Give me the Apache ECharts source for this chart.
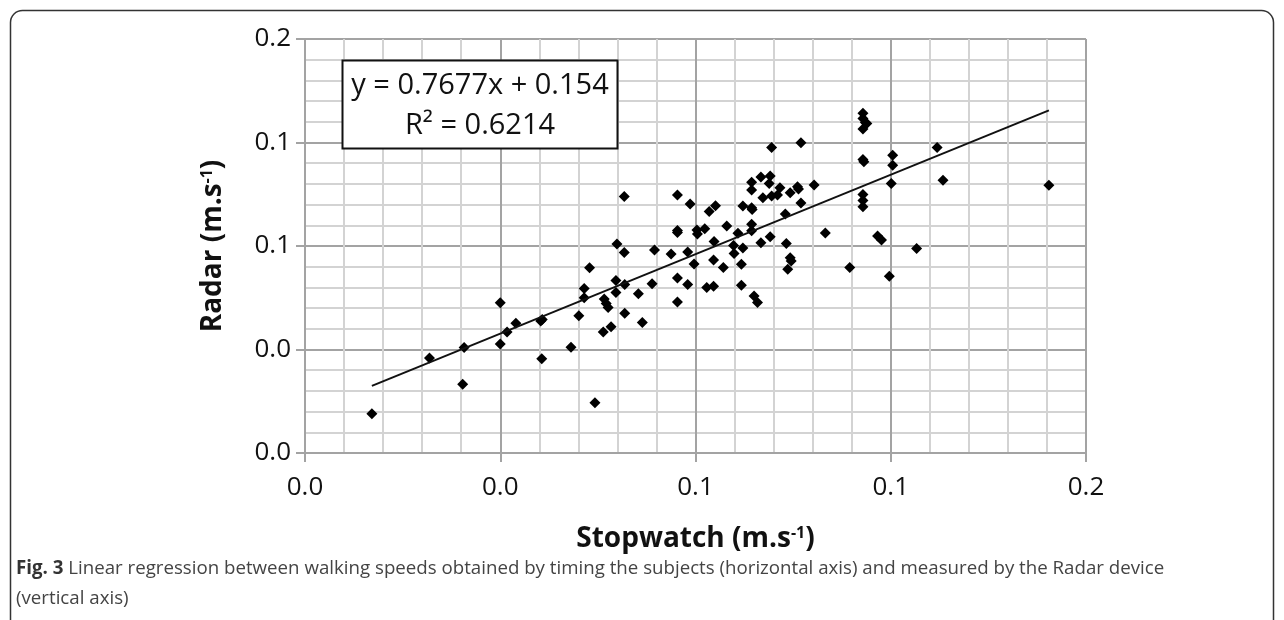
<!DOCTYPE html>
<html>
<head>
<meta charset="utf-8">
<script src="https://cdn.jsdelivr.net/npm/echarts@6/dist/echarts.min.js"></script>
<style>
html,body{margin:0;padding:0;background:#fff;}
#c{width:1284px;height:620px;}
</style>
</head>
<body>
<div id="c"></div>
<script>
// Stopwatch speed (x) and Radar speed (y)
const stopwatch = [0.137,0.255,0.323,0.326,0.400,0.400,0.414,0.432,0.483,0.486,0.485,0.545,0.561,0.572,0.572,0.583,0.594,0.611,0.613,0.617,0.621,0.627,0.637,0.637,0.639,0.654,0.655,0.655,0.654,0.683,0.691,0.711,0.716,0.750,0.763,0.763,0.784,0.784,0.797,0.763,0.789,0.763,0.763,0.803,0.804,0.819,0.828,0.841,0.823,0.837,0.838,0.837,0.857,0.864,0.878,0.879,0.887,0.897,0.897,0.894,0.894,0.915,0.915,0.915,0.916,0.915,0.915,0.920,0.927,0.934,0.934,0.938,0.953,0.951,0.953,0.956,0.956,0.968,0.973,0.984,0.986,0.989,0.994,0.996,0.994,1.009,1.011,1.016,1.016,1.043,1.066,1.116,1.143,1.143,1.148,1.151,1.143,1.143,1.145,1.143,1.143,1.143,1.173,1.181,1.197,1.201,1.204,1.204,1.253,1.295,1.307,1.524];
const radar = [0.152,0.367,0.266,0.408,0.581,0.421,0.468,0.501,0.510,0.516,0.364,0.409,0.530,0.636,0.600,0.716,0.194,0.468,0.595,0.578,0.562,0.488,0.667,0.620,0.808,0.775,0.651,0.540,0.991,0.615,0.504,0.654,0.785,0.769,0.676,0.584,0.777,0.651,0.730,0.997,0.962,0.860,0.852,0.862,0.846,0.867,0.933,0.956,0.640,0.644,0.817,0.746,0.717,0.877,0.802,0.771,0.849,0.955,0.792,0.729,0.648,1.046,1.016,0.948,0.941,0.884,0.859,0.607,0.582,1.067,0.813,0.986,1.071,1.042,0.836,1.181,0.993,0.997,1.025,0.924,0.810,0.710,0.755,0.742,1.006,1.029,1.020,1.199,0.966,1.036,0.850,0.717,1.313,1.293,1.277,1.273,1.252,1.134,1.126,0.999,0.976,0.952,0.839,0.823,0.683,1.042,1.151,1.112,0.790,1.181,1.054,1.035];
const xTickLabels = ['0.0','0.0','0.1','0.1','0.2'];
const yTickLabels = ['0.0','0.0','0.1','0.1','0.2'];
const trendX = [0.137, 1.524];
const trendSlope = 0.7677;
const trendIntercept = 0.154;
const equationText = 'y = 0.7677x + 0.154';
const r2Text = 'R\u00B2 = 0.6214';

const points = stopwatch.map((x, i) => [x, radar[i]]);
const trend = trendX.map(x => [x, trendSlope * x + trendIntercept]);

const chart = echarts.init(document.getElementById('c'), null, {renderer: 'canvas'});
const majorColor = '#a3a3a3';
const minorColor = '#d3d3d3';
const tickFmt = (labels) => (v) => labels[Math.round(v / 0.4)] ?? '';
const titleStyle = {fontFamily: 'Open Sans', fontWeight: 'bold', fontSize: 28, color: '#111',
  rich: {sup: {fontFamily: 'Open Sans', fontWeight: 'bold', fontSize: 16, color: '#111', verticalAlign: 'top', padding: [0,0,12,0]}}};

chart.setOption({
  animation: false,
  backgroundColor: '#fff',
  grid: {left: 305, top: 39, width: 781, height: 414},
  xAxis: {
    type: 'value', min: 0, max: 1.6, interval: 0.4,
    name: 'Stopwatch (m.s{sup|-1})',
    nameLocation: 'middle', nameGap: 72,
    nameTextStyle: titleStyle,
    axisLine: {show: true, lineStyle: {color: majorColor, width: 2}},
    axisTick: {show: true, length: 9, lineStyle: {color: majorColor, width: 2}},
    axisLabel: {formatter: tickFmt(xTickLabels), fontFamily: 'Open Sans', fontSize: 26, color: '#111', margin: 22},
    splitLine: {show: true, lineStyle: {color: majorColor, width: 2}},
    minorTick: {show: false, splitNumber: 5},
    minorSplitLine: {show: true, lineStyle: {color: minorColor, width: 2}}
  },
  yAxis: {
    type: 'value', min: 0, max: 1.6, interval: 0.4,
    name: 'Radar (m.s{sup|-1})',
    nameLocation: 'middle', nameGap: 78, nameRotate: 90,
    nameTextStyle: titleStyle,
    axisLine: {show: true, lineStyle: {color: majorColor, width: 2}},
    axisTick: {show: true, length: 9, lineStyle: {color: majorColor, width: 2}},
    axisLabel: {formatter: tickFmt(yTickLabels), fontFamily: 'Open Sans', fontSize: 26, color: '#111', margin: 14},
    splitLine: {show: true, lineStyle: {color: majorColor, width: 2}},
    minorTick: {show: false, splitNumber: 5},
    minorSplitLine: {show: true, lineStyle: {color: minorColor, width: 2}}
  },
  series: [
    {
      type: 'scatter', data: points, symbol: 'diamond', symbolSize: 11,
      itemStyle: {color: '#000', opacity: 1}, z: 3
    },
    {
      type: 'line', data: trend, showSymbol: false, symbol: 'none',
      lineStyle: {color: '#111', width: 2}, z: 4
    }
  ],
  graphic: [
    {type: 'rect', shape: {x: 10.5, y: 10.5, width: 1263, height: 660, r: 12},
     style: {fill: 'none', stroke: '#333', lineWidth: 1.5}, z: 1},
    {type: 'rect', shape: {x: 342.5, y: 60.5, width: 275, height: 88},
     style: {fill: '#fff', stroke: '#111', lineWidth: 2}, z: 10},
    {type: 'text', x: 480, y: 86, z: 11,
     style: {text: equationText, fontFamily: 'Open Sans', fontSize: 29, fill: '#111', align: 'center', verticalAlign: 'middle'}},
    {type: 'text', x: 480, y: 126, z: 11,
     style: {text: r2Text, fontFamily: 'Open Sans', fontSize: 29, fill: '#111', align: 'center', verticalAlign: 'middle'}},
    {type: 'text', x: 16, y: 569, z: 11,
     style: {text: '{b|Fig. 3} Linear regression between walking speeds obtained by timing the subjects (horizontal axis) and measured by the Radar device',
       fontFamily: 'Open Sans', fontSize: 18.7, fill: '#444', verticalAlign: 'middle',
       rich: {b: {fontFamily: 'Open Sans', fontWeight: 'bold', fontSize: 18.7, fill: '#333'}}}},
    {type: 'text', x: 16, y: 599, z: 11,
     style: {text: '(vertical axis)', fontFamily: 'Open Sans', fontSize: 18.7, fill: '#444', verticalAlign: 'middle'}}
  ]
});
</script>
</body>
</html>
